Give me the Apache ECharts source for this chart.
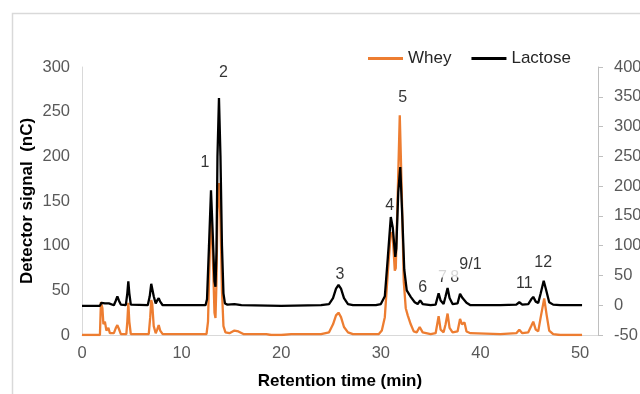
<!DOCTYPE html>
<html>
<head>
<meta charset="utf-8">
<script src="https://cdn.jsdelivr.net/npm/echarts@6/dist/echarts.min.js"></script>
<style>
html,body{margin:0;padding:0;background:#fff;}
#c{width:640px;height:394px;}
</style>
</head>
<body>
<div id="c"></div>
<script>
// Retention time (min) and signals
var wheyT = [0,1.8,1.9,2.05,2.15,2.3,2.45,2.65,2.8,3.2,3.4,3.55,3.7,3.9,4.45,4.55,4.65,4.75,4.9,6.7,6.85,6.95,7.05,7.2,7.4,7.55,7.7,7.85,8.1,10,10.2,10.4,12.5,12.65,12.8,12.95,13.1,13.3,13.4,13.5,13.6,13.75,13.9,14.05,14.2,14.4,14.8,15.3,15.7,16.2,18.5,19,20,21,24,24.8,25.2,25.5,25.75,26.0,26.3,26.7,27.2,29.8,30.1,30.4,30.7,31.0,31.2,31.4,31.5,31.7,31.9,32.1,32.3,32.5,32.7,33.0,33.3,33.6,33.9,34.2,35.0,35.5,35.8,36.0,36.3,36.5,36.7,36.9,37.2,37.7,37.95,38.15,38.4,38.6,39,42,43.6,43.9,44.2,44.8,45.1,45.3,45.55,45.8,46.05,46.4,46.65,46.9,47.3,48,50.2];
var wheyV = [0,0,37,30,12,15,5,8,2,2,8,11,7,1,1,15,36,15,1,1,20,39,35,10,2,6,11,5,1,1,3,1,1,15,80,135,100,25,19,60,140,170,130,50,10,3,2,5,4,1,1,0,0,1,1,3,12,22,25,20,9,3,1,1,5,20,70,115,110,72,75,160,246,160,60,30,22,12,4,3,9,3,1,2,21,6,3,12,24,8,3,4,18,12,14,4,2,1,2,6,2,3,10,15,6,4,20,41,22,5,1,0,0];
var lactoseT = [0,1.8,1.95,2.1,2.3,2.45,2.7,2.9,3.2,3.4,3.55,3.7,3.9,4.4,4.55,4.65,4.75,4.9,6.6,6.8,6.95,7.05,7.2,7.4,7.55,7.7,7.85,8.1,10,10.2,10.4,12.4,12.55,12.75,12.95,13.1,13.3,13.4,13.5,13.6,13.75,13.9,14.05,14.2,14.35,14.6,15.3,16,20,24,24.8,25.2,25.5,25.75,26.0,26.3,26.7,27.2,29.5,30.0,30.4,30.7,31.0,31.2,31.45,31.55,31.75,31.95,32.15,32.35,32.6,33.0,33.4,33.7,33.95,34.2,35.0,35.5,35.8,36.0,36.3,36.5,36.7,36.9,37.2,37.7,37.95,38.2,38.4,38.6,39,42,43.6,43.9,44.2,44.8,45.1,45.3,45.55,45.8,46.05,46.35,46.6,46.9,47.3,48,50.2];
var lactoseV = [-1,-1,4,2,3,1,3,0,0,8,15,8,1,0,20,40,20,1,0,15,36,36,15,3,8,12,6,0,0,2,0,0,10,100,193,130,40,31,90,250,348,250,100,20,3,1,2,0,-1,0,2,12,28,34,28,12,2,0,0,2,15,80,148,130,81,95,190,232,150,60,25,14,5,2,8,2,0,1,20,8,2,15,29,12,2,3,19,12,14,4,0,0,1,5,1,2,10,14,6,4,20,41,25,5,1,0,0];

// Peak annotations (x in min, y on the right axis scale)
var peakLabels = ["1","2","3","4","5","6","7\u20098","9/1","11","12"];
var peakX = [12.35,14.2,25.9,30.9,32.2,34.2,36.8,39.0,44.4,46.3];
var peakY = [240,390,51,167,348,29,46,70,37,71];

var seriesNames = ["Whey","Lactose"];
var xTicks = [0,10,20,30,40,50];

function pairs(t,v){var o=[];for(var i=0;i<t.length;i++)o.push([t[i],v[i]]);return o;}

var annData = peakLabels.map(function(l,i){
  var d = {value:[peakX[i],peakY[i]], name:l};
  if(l==="9/1"){
    d.label = {backgroundColor:'#ffffff', padding:[2,2,7,24], offset:[-11,1.5]};
  }
  return d;
});

var FONT = 'Liberation Sans, Arial, sans-serif';
var chart = echarts.init(document.getElementById('c'), null, {renderer:'canvas'});
chart.setOption({
  animation:false,
  backgroundColor:'#ffffff',
  graphic:[{type:'rect', shape:{x:12.5,y:13.5,width:700,height:500}, style:{fill:'none',stroke:'#d9d9d9',lineWidth:1.5}, z:-1}],
  grid:{left:82,right:42,top:67,bottom:59,containLabel:false,outerBoundsMode:'none'},
  legend:{
    data:seriesNames, left:368, top:50, padding:0, icon:'rect', itemWidth:35, itemHeight:3, itemGap:20,
    textStyle:{fontFamily:FONT,fontSize:17,color:'#262626'}
  },
  xAxis:{
    type:'value', min:0, max:51.8, interval:10,
    name:'Retention time (min)', nameLocation:'middle', nameGap:38, nameMoveOverlap:false,
    nameTextStyle:{fontFamily:FONT,fontSize:17,fontWeight:'bold',color:'#000'},
    axisLine:{show:true,lineStyle:{color:'#d9d9d9',width:1}},
    axisTick:{show:false},
    splitLine:{show:false},
    axisLabel:{fontFamily:FONT,fontSize:16.5,color:'#595959',margin:10,showMaxLabel:false,
      formatter:function(v){return xTicks.indexOf(v)>=0?String(v):'';}}
  },
  yAxis:[{
    type:'value', min:0, max:300, interval:50, position:'left',
    name:'Detector signal  (nC)', nameLocation:'middle', nameGap:46, nameMoveOverlap:false,
    nameTextStyle:{fontFamily:FONT,fontSize:17,fontWeight:'bold',color:'#000'},
    axisLine:{show:true,lineStyle:{color:'#d9d9d9',width:1}},
    axisTick:{show:false},
    splitLine:{show:false},
    axisLabel:{fontFamily:FONT,fontSize:16.5,color:'#595959',margin:12}
  },{
    type:'value', min:-50, max:400, interval:50, position:'right',
    axisLine:{show:true,lineStyle:{color:'#bfbfbf',width:1}},
    axisTick:{show:true,length:5,lineStyle:{color:'#bfbfbf'}},
    splitLine:{show:false},
    axisLabel:{fontFamily:FONT,fontSize:16.5,color:'#595959',margin:16}
  }],
  series:[{
    name:seriesNames[0], type:'line', yAxisIndex:0, data:pairs(wheyT,wheyV),
    showSymbol:false, symbol:'none', lineStyle:{color:'#ED7D31',width:2.3}, itemStyle:{color:'#ED7D31'}, z:2
  },{
    name:seriesNames[1], type:'line', yAxisIndex:1, data:pairs(lactoseT,lactoseV),
    showSymbol:false, symbol:'none', lineStyle:{color:'#000000',width:2.3}, itemStyle:{color:'#000000'}, z:3
  },{
    name:'labels', type:'scatter', yAxisIndex:1, data:annData, symbolSize:0, z:5,
    silent:true,
    label:{show:true, position:'inside', formatter:function(p){return p.name;},
      fontFamily:FONT, fontSize:16, color:'#000'}
  }]
});
</script>
</body>
</html>
